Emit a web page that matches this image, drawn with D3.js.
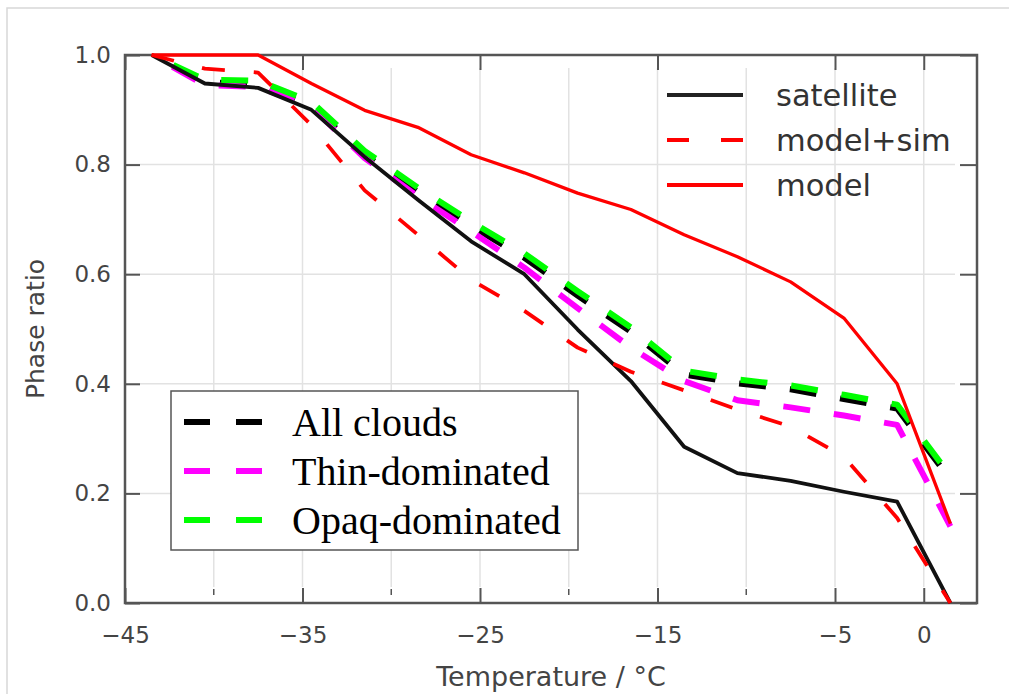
<!DOCTYPE html>
<html><head><meta charset="utf-8">
<script src="https://cdn.jsdelivr.net/npm/d3@7"></script>
<style>html,body{margin:0;padding:0;background:#fff;}svg{display:block;}</style>
</head><body>
<svg id="chart" width="1009" height="694"></svg>
<script>
// ---- data ----
const temps      = [-43.5,-40.5,-37.5,-34.5,-31.5,-28.5,-25.5,-22.5,-19.5,-16.5,-13.5,-10.5,-7.5,-4.5,-1.5,1.5];
const satellite  = [1.0, 0.948,0.940,0.900,0.814,0.736,0.660,0.600,0.499,0.405,0.285,0.237,0.223,0.203,0.185,0.0];
const modelSim   = [1.0, 0.975,0.968,0.872,0.753,0.672,0.590,0.533,0.466,0.422,0.388,0.353,0.322,0.267,0.155,0.0];
const model      = [1.0, 1.0, 1.0, 0.948,0.899,0.868,0.818,0.785,0.748,0.718,0.672,0.632,0.586,0.520,0.400,0.145];
const allClouds  = [1.0, 0.950,0.947,0.908,0.818,0.750,0.688,0.630,0.561,0.495,0.417,0.401,0.390,0.372,0.355,0.225];
const thinDom    = [1.0, 0.945,0.942,0.905,0.812,0.742,0.678,0.612,0.538,0.466,0.405,0.370,0.357,0.342,0.325,0.140];
const opaqDom    = [1.0, 0.955,0.953,0.915,0.825,0.758,0.696,0.638,0.569,0.503,0.424,0.408,0.397,0.380,0.362,0.232];
const xMajorTicks = [-45,-35,-25,-15,-5,0];
const xMinorTicks = [-40,-30,-20,-10];
const xGrid       = [-40,-35,-30,-25,-20,-15,-10,-5,0];
const yTicks      = [0.0,0.2,0.4,0.6,0.8,1.0];
const yGrid       = [0.2,0.4,0.6,0.8];

const svg = d3.select("#chart");
const L=125, R=977, T=55, B=603;
const x = d3.scaleLinear().domain([-45,3]).range([L,R]);
const y = d3.scaleLinear().domain([0,1]).range([B,T]);
const axisCol = "#555", txtCol = "#444";

// outer light frame
svg.append("rect").attr("x",7).attr("y",8).attr("width",1020).attr("height",700)
  .attr("fill","none").attr("stroke","#d8d8d8").attr("stroke-width",1.5);

// grid
svg.append("g").selectAll("line").data(xGrid).join("line")
  .attr("x1",d=>x(d)).attr("x2",d=>x(d)).attr("y1",T+13).attr("y2",B-16)
  .attr("stroke","#e2e2e2").attr("stroke-width",1.5);
svg.append("g").selectAll("line").data(yGrid).join("line")
  .attr("x1",L).attr("x2",R-22).attr("y1",d=>y(d)).attr("y2",d=>y(d))
  .attr("stroke","#e2e2e2").attr("stroke-width",1.5);

// axes via d3 axis generators (ticks inward)
const fmtX = d => d<0 ? "\u2212"+Math.abs(d) : String(d);
const gx = svg.append("g").attr("transform",`translate(0,${B})`)
  .call(d3.axisBottom(x).tickValues(xMajorTicks).tickFormat(fmtX).tickSizeInner(-15).tickSizeOuter(0).tickPadding(24));
const gxTop = svg.append("g").attr("transform",`translate(0,${T})`)
  .call(d3.axisTop(x).tickValues(xMajorTicks).tickFormat("").tickSizeInner(-15).tickSizeOuter(0));
const gy = svg.append("g").attr("transform",`translate(${L},0)`)
  .call(d3.axisLeft(y).tickValues(yTicks).tickFormat(d3.format(".1f")).tickSizeInner(-15).tickSizeOuter(0).tickPadding(14));
const gyR = svg.append("g").attr("transform",`translate(${R},0)`)
  .call(d3.axisRight(y).tickValues(yTicks).tickFormat("").tickSizeInner(-17).tickSizeOuter(0));
[gx,gxTop,gy,gyR].forEach(g=>{
  g.select(".domain").remove();
  g.selectAll(".tick line").attr("stroke",axisCol).attr("stroke-width",2);
  g.selectAll("text").attr("fill",txtCol).attr("font-family","DejaVu Sans").attr("font-size",23);
});
// minor bottom ticks
svg.append("g").selectAll("line").data(xMinorTicks).join("line")
  .attr("x1",d=>x(d)).attr("x2",d=>x(d)).attr("y1",B-14).attr("y2",B-8)
  .attr("stroke",axisCol).attr("stroke-width",1.5);
// frame
svg.append("rect").attr("x",L).attr("y",T).attr("width",R-L).attr("height",B-T)
  .attr("fill","none").attr("stroke",axisCol).attr("stroke-width",2.5);

// axis labels
svg.append("text").attr("x",(L+R)/2).attr("y",686).attr("text-anchor","middle")
  .attr("font-family","DejaVu Sans").attr("font-size",27).attr("fill",txtCol)
  .text("Temperature / \u00B0C");
svg.append("text").attr("transform",`translate(44,${(T+B)/2}) rotate(-90)`).attr("text-anchor","middle")
  .attr("font-family","DejaVu Sans").attr("font-size",25).attr("fill",txtCol)
  .text("Phase ratio");

// lines
const line = vals => d3.line().x((d,i)=>x(temps[i])).y(d=>y(d))(vals);
const plot = svg.append("g");
const grp = [
  {v:allClouds, c:"#000000"},
  {v:thinDom,   c:"#ff00ff"},
  {v:opaqDom,   c:"#00ff00"}
];
grp.forEach(s=>{
  plot.append("path").attr("d",line(s.v)).attr("fill","none").attr("stroke",s.c)
    .attr("stroke-width",6).attr("stroke-dasharray","27,24").attr("stroke-dashoffset",27)
    .attr("stroke-linejoin","round");
});
plot.append("path").attr("d",line(satellite)).attr("fill","none").attr("stroke","#111")
  .attr("stroke-width",3.8).attr("stroke-linejoin","round");
plot.append("path").attr("d",line(modelSim)).attr("fill","none").attr("stroke","#ff0000")
  .attr("stroke-width",3.8).attr("stroke-dasharray","23,29").attr("stroke-linejoin","round");
plot.append("path").attr("d",line(model)).attr("fill","none").attr("stroke","#ff0000")
  .attr("stroke-width",3.3).attr("stroke-linejoin","round");

// legend 1 (top right)
const leg1 = [
  {t:"satellite", c:"#222", dash:null, y:95},
  {t:"model+sim", c:"#ff0000", dash:"22,32", y:140},
  {t:"model", c:"#ff0000", dash:null, y:185}
];
leg1.forEach(e=>{
  svg.append("line").attr("x1",667).attr("x2",743).attr("y1",e.y).attr("y2",e.y)
    .attr("stroke",e.c).attr("stroke-width",3.8).attr("stroke-dasharray",e.dash);
  svg.append("text").attr("x",776).attr("y",e.y+11).attr("font-family","DejaVu Sans")
    .attr("font-size",30.5).attr("fill","#333").text(e.t);
});

// legend 2 (boxed)
svg.append("rect").attr("x",171).attr("y",391).attr("width",407).attr("height",159)
  .attr("fill","#fff").attr("stroke","#555").attr("stroke-width",1.5);
const leg2 = [
  {t:"All clouds", c:"#000000", y:422},
  {t:"Thin-dominated", c:"#ff00ff", y:471},
  {t:"Opaq-dominated", c:"#00ff00", y:520}
];
leg2.forEach(e=>{
  svg.append("line").attr("x1",184).attr("x2",262).attr("y1",e.y).attr("y2",e.y)
    .attr("stroke",e.c).attr("stroke-width",6).attr("stroke-dasharray","26,26");
  svg.append("text").attr("x",292).attr("y",e.y+14).attr("font-family","Liberation Serif")
    .attr("font-size",40).attr("fill","#000").text(e.t);
});
</script>
</body></html>
